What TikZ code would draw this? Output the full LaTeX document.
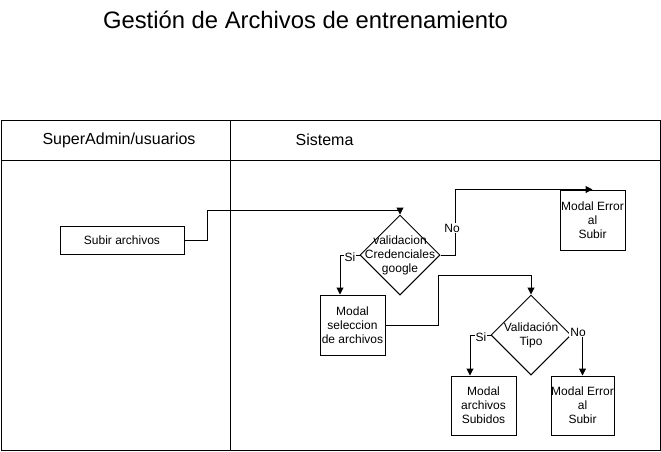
\documentclass[tikz,border=0pt]{standalone}
\usepackage{fontspec}
\setmainfont{Liberation Sans}
\usetikzlibrary{positioning,shapes.geometric,arrows.meta}

\tikzset{
  proc/.style={draw, line width=1pt, align=center, inner sep=0pt,
    font=\fontsize{12}{14}\selectfont},
  decision/.style={draw, diamond, line width=1pt, aspect=1, inner sep=0pt,
    minimum width=80pt, minimum height=80pt},
  dtext/.style={align=center, inner sep=0pt, font=\fontsize{12}{14}\selectfont},
  flow/.style={line width=1pt, -{Triangle[length=7pt,width=7pt]}},
  lbl/.style={fill=white, inner sep=1pt, font=\fontsize{12}{14}\selectfont},
  lane/.style={font=\fontsize{16}{19}\selectfont}
}

\begin{document}
\begin{tikzpicture}[x=1pt, y=-1pt]
  \useasboundingbox (0,0) rectangle (661,451);

  % titulo
  \node[font=\fontsize{23.8}{28}\selectfont] (titulo) at (305.5,20) {Gestión de Archivos de entrenamiento};

  % pool y carriles
  \draw[line width=1pt] (1,120) rectangle (660,450);
  \draw[line width=1pt] (1,160) -- (660,160);
  \draw[line width=1pt] (230,120) -- (230,450);
  \node[lane] (usuarios) at (119,140) {SuperAdmin/usuarios};
  \node[lane] (sistema)  at (324.5,140) {Sistema};

  % nodos
  \node[proc, minimum width=124pt, minimum height=28pt] (subir) at (122,240) {Subir archivos};
  \node[decision] (valcred) at (400,255) {};
  \node[dtext] at (valcred) {validacion\\Credenciales\\google};
  \node[proc, minimum width=65pt, minimum height=60pt] (error1) at (592.5,220) {Modal Error\\al\\Subir};
  \node[proc, minimum width=65pt, minimum height=60pt] (selec) at (352.5,325) {Modal\\seleccion\\de archivos};
  \node[decision] (valtipo) at (531,335) {};
  \node[dtext] at (valtipo) {Validación\\Tipo};
  \node[proc, minimum width=65pt, minimum height=59pt] (subidos) at (483.5,405.5) {Modal\\archivos\\Subidos};
  \node[proc, minimum width=63pt, minimum height=59pt] (error2) at (582.5,405.5) {Modal Error\\al\\Subir};

  % conectores
  \draw[flow] (subir.east) -- (207,240) -- (207,210) -| (valcred.north);
  \draw[flow] (valcred.west) -| ([xshift=-12.5pt]selec.north);
  \node[lbl] at (350,257) {Si};
  \draw[flow] (valcred.east) -- (455,255) |- (error1.north);
  \node[lbl] at (452,228) {No};
  \draw[flow] (selec.east) -| (438,275) -| (valtipo.north);
  \draw[flow] (valtipo.west) -| ([xshift=-13.5pt]subidos.north);
  \node[lbl] at (481,337) {Si};
  \draw[flow] (valtipo.east) -| (error2.north);
  \node[lbl] at (578,332) {No};
\end{tikzpicture}
\end{document}
